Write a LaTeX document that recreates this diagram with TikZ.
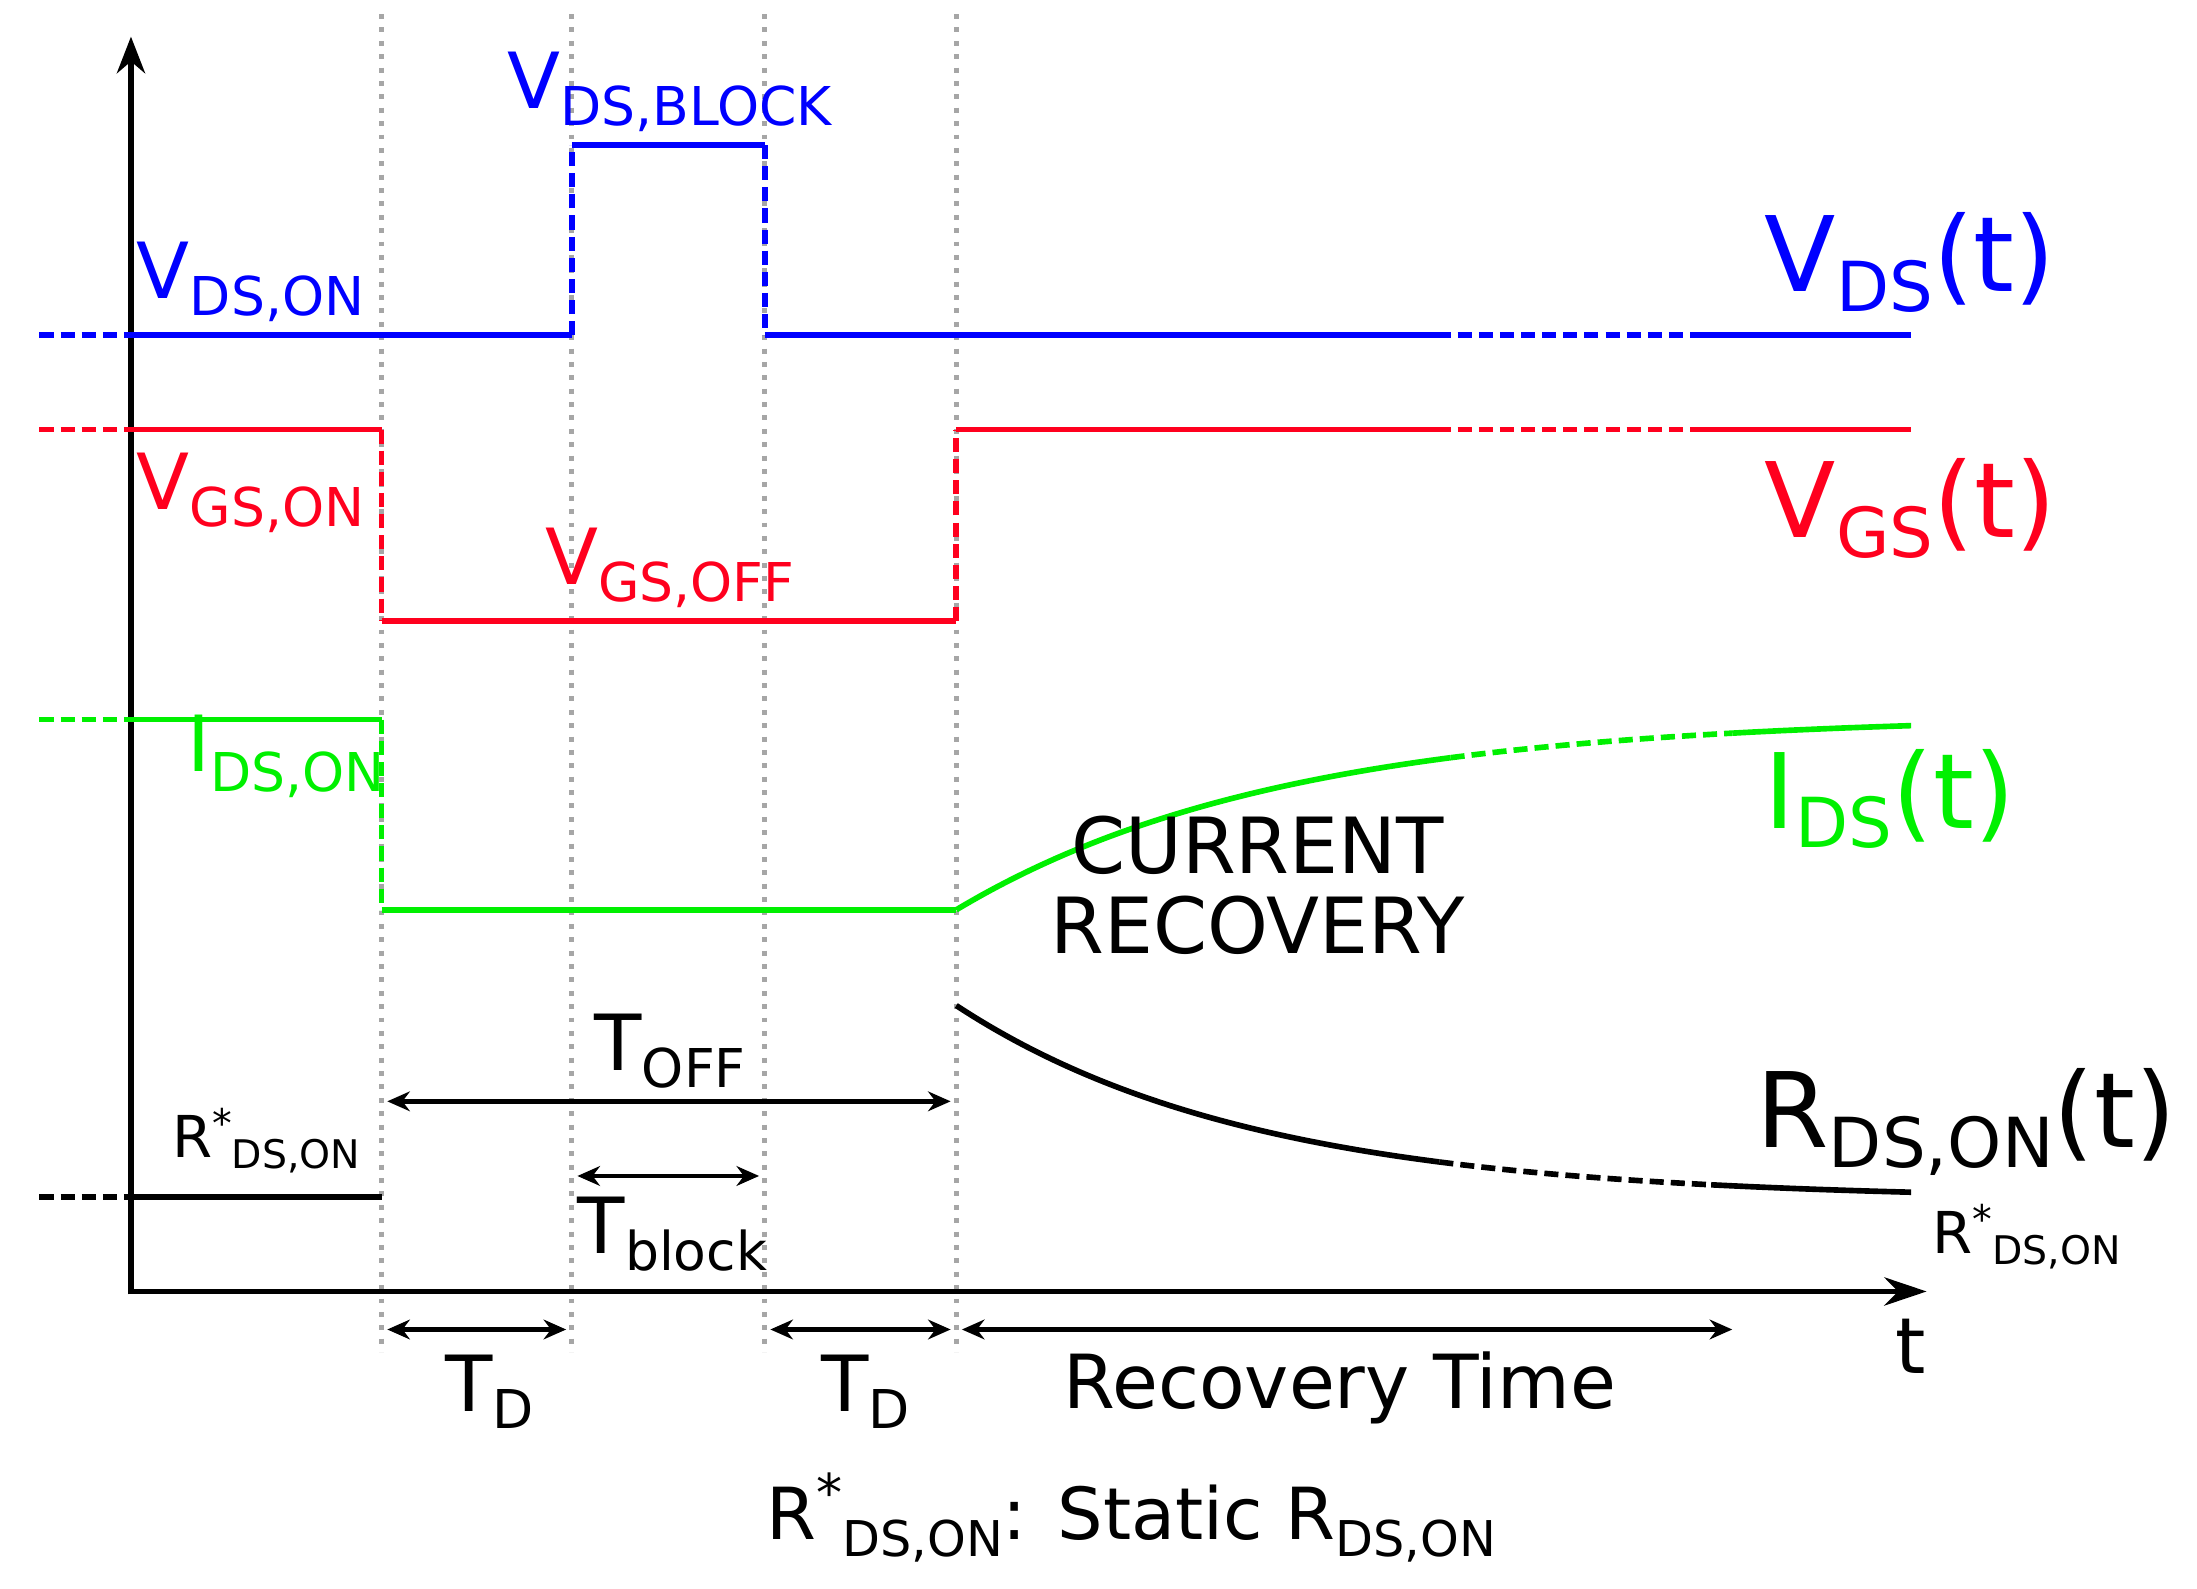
\documentclass[tikz,border=0pt]{standalone}
\usetikzlibrary{arrows.meta}
\usepackage{fontspec}
\setmainfont{DejaVu Sans}
\newcommand\fs[1]{\fontsize{#1}{#1}\selectfont}
\newcommand\lbsub[3]{\raisebox{-#1pt}{\fs{#2}#3}}
\begin{document}
\begin{tikzpicture}[x={(1pt,0)},y={(0,-1pt)},
  sig/.style={line width=4pt},
  dsh/.style={line width=4pt,dash pattern=on 10pt off 5pt},
  grid/.style={line width=3.5pt,gray!70,dash pattern=on 3.5pt off 6pt},
  dim/.style={line width=3.5pt,<->,>={Stealth[length=16pt,width=14pt]}},
  lab/.style={inner sep=0pt,anchor=base west}]
\useasboundingbox (0,0) rectangle (1560,1128);
\definecolor{bl}{RGB}{0,0,255}\definecolor{rd}{RGB}{255,0,30}\definecolor{gr}{RGB}{0,240,0}
% grid
\foreach \x/\n in {271/a,406/b,543/c,679/d}{\coordinate (t\n) at (\x,10); \coordinate (b\n) at (\x,960); \draw[grid] (t\n)--(b\n);}
% axes
\coordinate (o) at (93,917); \coordinate (ytop) at (93,26); \coordinate (xend) at (1368,917);
\draw[line width=4pt,-{Stealth[length=26pt,width=20pt]}] (93,919)--(ytop);
\draw[line width=4pt,-{Stealth[length=30pt,width=20pt]}] (91,917)--(xend);
% VDS
\begin{scope}[bl]
\draw[dsh] (28,238)--(93,238);
\draw[sig] (93,238)--(406,238);
\draw[dsh] (406,238)--(406,103);
\draw[sig] (406,103)--(543,103);
\draw[dsh] (543,103)--(543,238);
\draw[sig] (543,238)--(1020,238);
\draw[dsh] (1020,238)--(1210,238);
\draw[sig] (1210,238)--(1357,238);
\end{scope}
% VGS
\begin{scope}[rd]
\draw[dsh] (28,305)--(93,305);
\draw[sig] (93,305)--(271,305);
\draw[dsh] (271,305)--(271,441);
\draw[sig] (271,441)--(679,441);
\draw[dsh] (679,441)--(679,305);
\draw[sig] (679,305)--(1020,305);
\draw[dsh] (1020,305)--(1210,305);
\draw[sig] (1210,305)--(1357,305);
\end{scope}
% IDS
\begin{scope}[gr]
\draw[dsh] (28,511)--(93,511);
\draw[sig] (93,511)--(271,511);
\draw[dsh] (271,511)--(271,646);
\draw[sig] (271,646)--(679,646);
\draw[sig,domain=679:1030,samples=60] plot (\x,{508+138*exp(-(\x-679)/230)});
\draw[dsh,domain=1030:1230,samples=40] plot (\x,{508+138*exp(-(\x-679)/230)});
\draw[sig,domain=1230:1357,samples=20] plot (\x,{508+138*exp(-(\x-679)/230)});
\end{scope}
% RDS
\draw[dsh] (28,850)--(93,850);
\draw[sig] (93,850)--(271,850);
\draw[sig,domain=679:1022,samples=60] plot (\x,{852-138*exp(-(\x-679)/210)});
\draw[dsh,domain=1022:1215,samples=40] plot (\x,{852-138*exp(-(\x-679)/210)});
\draw[sig,domain=1215:1357,samples=20] plot (\x,{852-138*exp(-(\x-679)/210)});
% dimension arrows
\coordinate (off1) at (275,782); \coordinate (off2) at (675,782);
\draw[dim] (off1)--(off2);
\coordinate (bk1) at (410,835); \coordinate (bk2) at (539,835);
\draw[dim] (bk1)--(bk2);
\coordinate (d1) at (275,944); \coordinate (d2) at (402,944);
\draw[dim] (d1)--(d2);
\coordinate (d3) at (547,944); \coordinate (d4) at (675,944);
\draw[dim] (d3)--(d4);
\coordinate (r1) at (683,944); \coordinate (r2) at (1230,944);
\draw[dim] (r1)--(r2);
% labels
\node[lab,bl] (vdson) at (97,212) {\fs{55}V\lbsub{12}{38}{DS,ON}};
\node[lab,bl] (vdsbl) at (360,77) {\fs{55}V\lbsub{12}{38}{DS,BLOCK}};
\node[lab,bl] (vdst) at (1253,207) {\fs{74}V\lbsub{14}{49}{DS}(t)};
\node[lab,rd] (vgson) at (97,362) {\fs{55}V\lbsub{12}{38}{GS,ON}};
\node[lab,rd] (vgsoff) at (387,415) {\fs{55}V\lbsub{12}{38}{GS,OFF}};
\node[lab,rd] (vgst) at (1253,382) {\fs{74}V\lbsub{14}{49}{GS}(t)};
\node[lab,gr] (idson) at (133,548) {\fs{55}I\lbsub{14}{38}{DS,ON}};
\node[lab,gr] (idst) at (1253,588) {\fs{74}I\lbsub{14}{49}{DS}(t)};
\node[inner sep=0pt,align=center,anchor=base,font=\fs{55}] (cr) at (893,677) {CURRENT\\[2pt]RECOVERY};
\node[lab] (toff) at (422,760) {\fs{55}T\lbsub{12}{38}{OFF}};
\node[lab] (tbl) at (410,890) {\fs{55}T\lbsub{12}{38}{block}};
\node[lab] (rl) at (122,822) {\fs{41}R\raisebox{14pt}{\fs{28}*}\lbsub{8}{28}{DS,ON}};
\node[lab] (rdst) at (1247,815) {\fs{74}R\lbsub{14}{49}{DS,ON}(t)};
\node[lab] (rr) at (1372,890) {\fs{41}R\raisebox{14pt}{\fs{28}*}\lbsub{8}{28}{DS,ON}};
\node[inner sep=0pt,anchor=base] (tl) at (1357,975) {\fs{55}t};
\node[lab] (td1) at (316,1002) {\fs{55}T\lbsub{12}{38}{D}};
\node[lab] (td2) at (583,1002) {\fs{55}T\lbsub{12}{38}{D}};
\node[lab] (rt) at (755,1000) {\fs{53}Recovery Time};
\node[lab] (foot) at (544,1093) {\fs{51}R\raisebox{20pt}{\fs{37}*}\lbsub{12}{35}{DS,ON}: Static R\lbsub{12}{35}{DS,ON}};
\end{tikzpicture}
\end{document}
